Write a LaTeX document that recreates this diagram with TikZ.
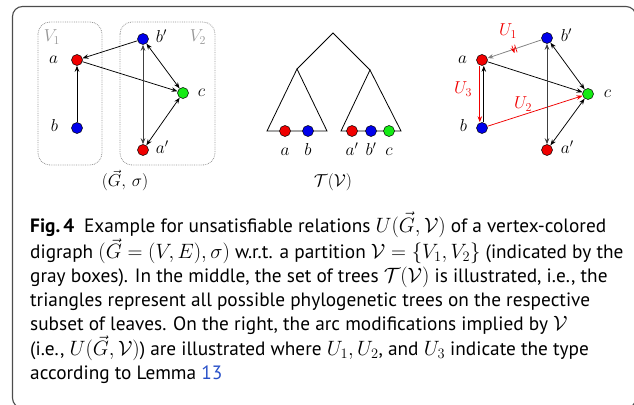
\documentclass[tikz,border=0pt]{standalone}
\usepackage{amsmath,amssymb}
\usepackage{fontspec}
\usepackage{tikz}
\usetikzlibrary{arrows.meta,positioning,decorations.markings}
\newfontfamily\capfont{PT Sans}
\definecolor{vred}{RGB}{240,0,0}
\definecolor{vblue}{RGB}{0,0,235}
\definecolor{vgreen}{RGB}{20,235,20}
\definecolor{boxgray}{RGB}{150,150,150}
\definecolor{linkblue}{RGB}{40,80,200}

\begin{document}
\begin{tikzpicture}[
      x=1pt, y=-1pt,
      >={Stealth[length=6pt,width=4.5pt]},
      vertex/.style={circle, draw, line width=0.5pt, minimum size=11pt,
      inner sep=0pt},
      lbl/.style={font=\fontsize{17.5}{17.5}\selectfont, text height=9pt,
      text depth=2pt, inner sep=1pt},
      arc/.style={->, line width=0.75pt},
      biarc/.style={<->, line width=0.75pt},
      part/.style={draw=boxgray, densely dotted, line width=0.8pt,
      rounded corners=12pt},
      tree/.style={line width=0.8pt},
      cut/.style={postaction=decorate, decoration={markings,
      mark=at position 0.5 with {\draw[vred, line width=0.7pt]
      (-1.4pt,-4pt) -- (-1.4pt,4pt) (1.4pt,-4pt) -- (1.4pt,4pt);}}}
    ]
    \useasboundingbox (0,0) rectangle (634,404);
    \draw[black!70, line width=1.1pt, rounded corners=10pt]
    (12.5,6.5) rectangle (636,408);

    % left: the digraph and its partition
    \draw[part] (38,22) rectangle (102,165);
    \draw[part] (120,22) rectangle (215,165);
    \node[lbl, text=boxgray] (v1) at (52,38) {$V_1$};
    \node[lbl, text=boxgray] (v2) at (198,38) {$V_2$};

    \node[vertex, fill=vred, label={[lbl, label distance=12pt]left:$a$}]
    (a1) at (77,60) {};
    \node[vertex, fill=vblue, label={[lbl, label distance=12pt]left:$b$}]
    (b1) at (77,128) {};
    \node[vertex, fill=vblue, label={[lbl, label distance=6pt]right:$b'$}]
    (bp1) at (143,39) {};
    \node[vertex, fill=vgreen, label={[lbl, label distance=8pt]right:$c$}]
    (c1) at (183,93) {};
    \node[vertex, fill=vred, label={[lbl, label distance=6pt]right:$a'$}]
    (ap1) at (143,150) {};

    \draw[arc] (bp1) -- (a1);
    \draw[arc] (a1) -- (c1);
    \draw[arc] (b1) -- (a1);
    \draw[biarc, black!75] (bp1) -- (ap1);
    \draw[biarc] (bp1) -- (c1);
    \draw[biarc] (c1) -- (ap1);
    \node[lbl] (gcap) at (125,183) {$(\vec{G},\,\sigma)$};

    % middle: the set of trees
    \coordinate (root) at (333,33);
    \coordinate (lt) at (297,69);
    \coordinate (rt) at (370,70);
    \coordinate (lt-w) at (267,131);
    \coordinate (lt-e) at (327,131);
    \coordinate (rt-w) at (341,131);
    \coordinate (rt-e) at (401,131);
    \draw[tree] (lt) -- (root) -- (rt);
    \draw[tree] (lt) -- (lt-w) -- (lt-e) -- cycle;
    \draw[tree] (rt) -- (rt-w) -- (rt-e) -- cycle;

    \node[vertex, fill=vred, label={[lbl, label distance=9pt]below:$a$}]
    (la) at (285,131) {};
    \node[vertex, fill=vblue, label={[lbl, label distance=9pt]below:$b$}]
    (lb) at (308,131) {};
    \node[vertex, fill=vred, label={[lbl, label distance=9pt]below:$a'$}]
    (lap) at (352,131) {};
    \node[vertex, fill=vblue, label={[lbl, label distance=9pt]below:$b'$}]
    (lbp) at (371,131) {};
    \node[vertex, fill=vgreen, label={[lbl, label distance=9pt]below:$c$}]
    (lc) at (389,131) {};
    \node[lbl] (tcap) at (333,183) {$\mathcal{T}(\mathcal{V})$};

    % right: the arc modifications
    \node[vertex, fill=vred, label={[lbl, label distance=8pt]left:$a$}]
    (a2) at (482,60) {};
    \node[vertex, fill=vblue, label={[lbl, label distance=8pt]left:$b$}]
    (b2) at (482,128) {};
    \node[vertex, fill=vblue, label={[lbl, label distance=7pt]right:$b'$}]
    (bp2) at (547,38) {};
    \node[vertex, fill=vgreen, label={[lbl, label distance=9pt]right:$c$}]
    (c2) at (588,94) {};
    \node[vertex, fill=vred, label={[lbl, label distance=7pt]right:$a'$}]
    (ap2) at (547,150) {};

    \draw[arc, gray, cut] (bp2) -- (a2);
    \draw[arc] (a2) -- (c2);
    \draw[arc] ([xshift=1.8pt]b2.north) -- ([xshift=1.8pt]a2.south);
    \draw[arc, vred] ([xshift=-2.2pt]a2.south) -- ([xshift=-2.2pt]b2.north);
    \draw[arc, vred] (b2) -- (c2);
    \draw[biarc, black!75] (bp2) -- (ap2);
    \draw[biarc] (bp2) -- (c2);
    \draw[biarc] (c2) -- (ap2);
    \node[lbl, text=vred] (u1) at (508,32) {$U_1$};
    \node[lbl, text=vred] (u3) at (463,90) {$U_3$};
    \node[lbl, text=vred] (u2) at (523,105) {$U_2$};

    % caption
    \node[anchor=north west, align=left, inner sep=0pt,
    font=\capfont\fontsize{19.3}{24}\selectfont] (caption) at (30,212) {
      \textbf{Fig.\,4}\enspace Example for unsatisfiable relations
      $U(\vec{G},\mathcal{V})$ of a vertex-colored\\
      digraph $(\vec{G}=(V,E),\sigma)$ w.r.t. a partition
      $\mathcal{V}=\{V_1,V_2\}$ (indicated by the\\
      gray boxes). In the middle, the set of trees
      $\mathcal{T}(\mathcal{V})$ is illustrated, i.e., the\\
      triangles represent all possible phylogenetic trees on the respective\\
      subset of leaves. On the right, the arc modifications implied by
      $\mathcal{V}$\\
      (i.e., $U(\vec{G},\mathcal{V})$) are illustrated where $U_1,U_2$,
      and $U_3$ indicate the type\\
      according to Lemma \textcolor{linkblue}{13}
    };
  \end{tikzpicture}
\end{document}
